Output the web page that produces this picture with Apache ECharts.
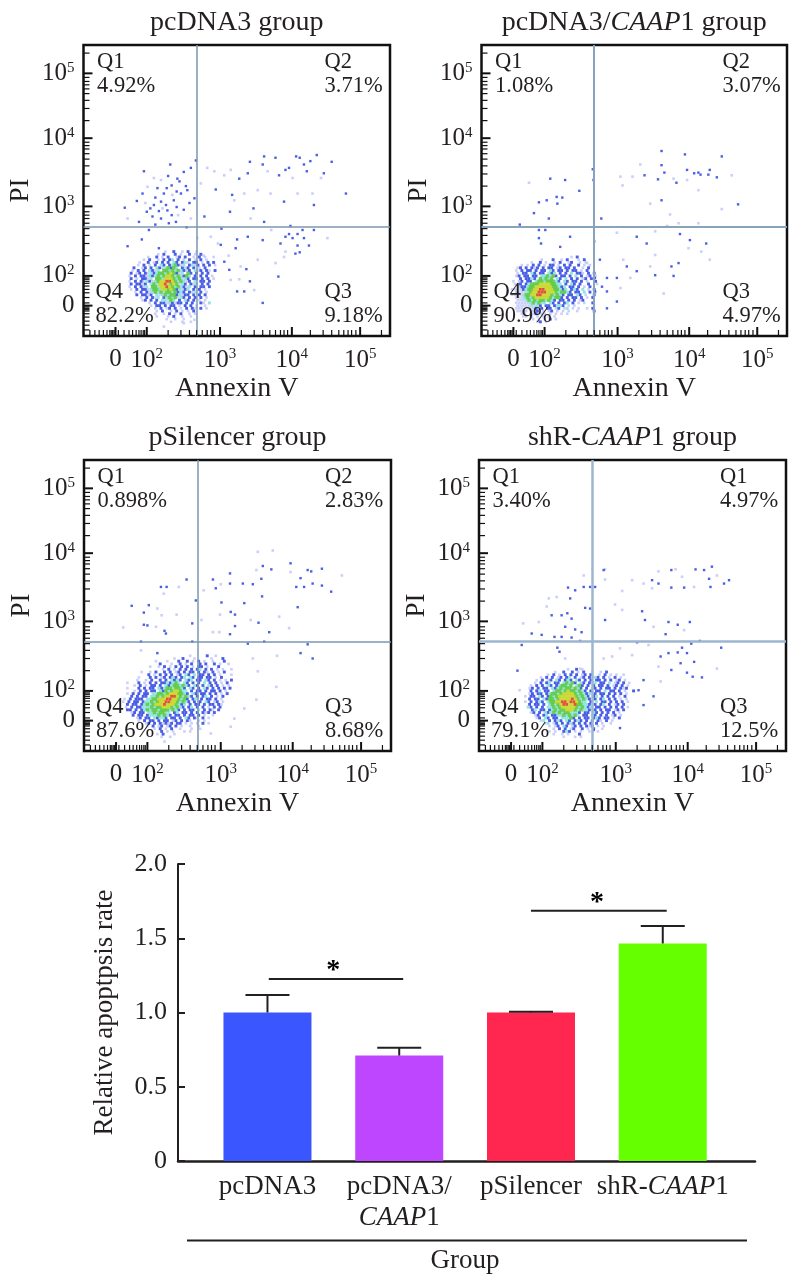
<!DOCTYPE html>
<html>
<head>
<meta charset="utf-8">
<style>
  html, body { margin: 0; background: #fff; }
  #main { width: 794px; height: 1281px; }
</style>
<script src="https://cdn.jsdelivr.net/npm/echarts@6/dist/echarts.min.js"></script>
</head>
<body>
<div id="main"></div>
<script>
// flow cytometry panels, axes are in decades (3 = 10^3), 0 sits at about 1.56
const axisMin = 1.11
const axisMax = 5.42
const xGate = 2.7
const yGate = 2.725
const majorTicks = [1.56, 2, 3.03, 4.04, 5]
const majorLabels = ['0', '10{s|2}', '10{s|3}', '10{s|4}', '10{s|5}']
const minorTicks = [
  1.2, 1.27, 1.33, 1.39, 1.44, 1.48, 1.5, 1.52, 1.54, 1.6, 1.68, 1.75, 1.8, 1.85, 1.89, 1.92, 1.95, 1.97,
  2.3, 2.48, 2.6, 2.7, 2.78, 2.85, 2.9, 2.95,
  3.33, 3.51, 3.63, 3.73, 3.81, 3.88, 3.93, 3.98,
  4.3, 4.48, 4.6, 4.7, 4.77, 4.83, 4.88, 4.94,
  5.3
]

const panelTitles = [
  '{r|pcDNA3 group}',
  '{r|pcDNA3/}{i|CAAP}{r|1 group}',
  '{r|pSilencer group}',
  '{r|shR-}{i|CAAP}{r|1 group}'
]
const quadNames = [
  ['Q1', 'Q2', 'Q3', 'Q4'],
  ['Q1', 'Q2', 'Q3', 'Q4'],
  ['Q1', 'Q2', 'Q3', 'Q4'],
  ['Q1', 'Q1', 'Q3', 'Q4']
]
const quadPercents = [
  ['4.92%', '3.71%', '9.18%', '82.2%'],
  ['1.08%', '3.07%', '4.97%', '90.9%'],
  ['0.898%', '2.83%', '8.68%', '87.6%'],
  ['3.40%', '4.97%', '12.5%', '79.1%']
]

// dense part of each cloud, one letter per 0.04 decade cell, top row first
// a pale, b blue, c cyan, g green, y yellow, r red
const cloud1Start = [1.7, 2.36]
const cloud1 = [
  '..............a..b..a.b..a......',
  '...........a.b...b.a..b.a.b.....',
  '........a..b.a.b..ab.b..a.b.a..a',
  '......a.b..a.b.bc.b.a.b.a.b.a...',
  '.....a..b.ab.b.b.cb.bca.bb.a.b.b',
  '....a.b.a.b.cb.bcgbac.bcab.b.b.a',
  '...b..ab.b.cbacgbgc.bab.b.a.b...',
  '..a.b.b.cbac.ggcgcgcbab.cab.ba.b',
  '..b.ab.bacbcggcgygbac.gb.b.b.b..',
  '.a.b.bbacbcgcgyygcgcbgc.b.b.b.a.',
  '..b.a.bbac.ggcyyygcgacb.bb.b.b.a',
  '.a.b.b.cbacgyyrrygcgcab.c.bb.b..',
  '..b.bbab.cgcyyrygygacb.bac.b.b..',
  '.a.b.bac.ggcyyrygcgcbac.b.bb.b..',
  '..a.b.bbacggcyygygbcabc.b.b.a...',
  '...a.b.bacgcgcggcgbcb.bac.b.a...',
  '....b.bbab.cacgcggbcabb.b.b.b...',
  '.....a.b.bac.bcgcgacb.b.b.b.a...',
  '......ab.b.b.ccagc.b.cb.b.a.a...',
  '........a.b.bbacbabb.b.b..ba.c..',
  '.........a.bb.b.bb.a.b.b.a..a...',
  '..........a.b.ab.b.a.b.ba.b.a...',
  '...........a.b..a.b.a.a.b.......',
  '..........a..a.b.a.b..a.a.......',
  '...........a...a.b..a..a........',
  '..............a..a..a...........',
  '................a...a..a........'
]
const cloud2Start = [1.5, 2.28]
const cloud2 = [
  '......................a.b.......',
  '...........a...b..a.b...a.b.....',
  '........a..b.a..a.b..ab..a.a....',
  '....a.a.b.b.a.bb.a.b.b..b.a.a...',
  '...ab.b.bab.b.bb.ab.bb.b..a.b...',
  '..a.b.bb.b.bb.cb.bb.b.bb.a.b....',
  '...a.bb.cb.bb.cbc.b.b.c.bba.b.b.',
  '..ab.bb.bb.ccgcgb.bb.b.c.b.ab.a.',
  '....b.bbcb.gcgcg.cb.c.b.b.ab.ba.',
  '.a.ab.bb.cggcgggcb.cb.bb.b.a..b.',
  '..aab.bcgggyyyyggcc.b.cb.b..b..a',
  '...abbcggyyyyyyggcbc.bb.b.a.b...',
  '.aaaabcggyyrryyyggcbc.bcb.c.a.b.',
  '..aaaacgyyrrryyygcggcb.bb.c.b.a.',
  '.aaaacggyyrryyygcgcb.bb.cb.a..b.',
  '..aaacgcgyyyyygcggb.b.bb.b.a.b..',
  '...aaacgcgcggcgcb.bb.b.b.ab.....',
  '..aaaaacgcgcc.cb.b.bc.b.a.a..b..',
  '...aaaaacacb.bb.bccb.a.a........',
  '..aaa.aaabab.bb.ab.ac.a.a..a.b..',
  '...aaaa.aab.a.ab.a.a.a..a.....b.',
  '....aa.aab.aa.a.a.a.a...........',
  '.....aa.a.a.a.a.a...............',
  '........a.a.a.b.a...............',
  '..........ab.a..................'
]
const cloud3Start = [1.6, 2.52]
const cloud3 = [
  '.........................a.....b..a.....',
  '...................a..b...a.....a...b...',
  '.............a...a...b..b.a.b.a..a...b..',
  '..............b...a..b.a.b..b.b..b.a..a.',
  '...........a..a.b.a.b.b.b.a.bb.a...b....',
  '...............a.b.a.b.b.b.bc.b.b.a.a..a',
  '........a..a.b..b.b.ab.b.bb.b.ba.b.a.b..',
  '..........b.a.b.b.b.ab.cb.c.bb.b.b.a...a',
  '.......a...b.b.ab.bcb.bc.cb.bb.bb.a.b...',
  '......a..a.b..b.b.cbcb.cbc.bb.cb.b.a.a.b',
  '...a...b.a.b.b.bbcbcgc.cb.b.b.c.b.b.a.b.',
  '.....a.b.a.bb.b.cbcggcgcb.cb.b.cb.b.a.a.',
  '...a...b.b.bb.cbcggcggcb.cb.b.cb.b.b.b.b',
  '.....a.b.b.bb.cbgcgyygcc.b.bb.b.bb.b.a..',
  '...a.b.b.bb.ccggcgyyyggcb.cb.bb.b.b.a.b.',
  '....b.b.bb.ccgcgyyrrygcgcb.b.bc.b.a.b...',
  '..a.b.bbb.ccggyyyrryygcgb.bc.b.bb.b.a...',
  '.a.b.bb.bccgcgyyrryygcgcb.b.b.cb.ab.a...',
  '...b.bb.bcgcgyyyryyygcbc.b.bb.b.bb.ba...',
  '..a.b.bbcccgcggyyygcgcb.bc.b.b.a.b.b....',
  '...bb.b.bcgcggcgggcgcb.b.bb.c.b.ba.b....',
  '....ab.bb.ccgcggcc.bc.bb.b.b.bab.b......',
  '.....b.bb.bcccgcgcb.bb.b.bb.b.a..a......',
  '......ab.bb.cbccb.bb.b.cb.ba.b.a........',
  '.......a.b.bb.b.bb.ab.b.ba..a.a.........',
  '.........ab.b.babab.bb.a.a.a.b.a........',
  '..........a.b.ab.ab.b.a..a..a...........',
  '............a.b.a.b..a...a..a...........',
  '...............b.a.a...a.a..............',
  '.............a.b...a....................',
  '...............a..a.....................'
]
const cloud4Start = [1.72, 2.32]
const cloud4 = [
  '................a..b.a..................',
  '...........a..b..b.a.b..a..a.b..........',
  '.........a.b.a.b.b.b.ab.b..a.b.a.a......',
  '......a.b.b.ab.bc.b.ab.b.cb.b.a.b.a.....',
  '.....a.b.ab.cb.bcb.cb.b.b.bb.b.b.ab.a...',
  '....a.b.bc.bb.cgcgb.cb.b.c.bb.c.ab.b.a..',
  '...a.b.b.cb.bcggcg.cgb.b.b.bb.b.ab.b.a..',
  '..ab.b.bb.cbcgcggcgcb.b.cb.b.bb.b.bab...',
  '...b.bc.bb.cggcgyggcgcb.b.bb.c.bb.b.a..b',
  '..ab.bb.bcggcgyyyygcgcbc.b.bb.b.b.b.a...',
  '.a.bb.cb.bgcgyyyyyygcgcb.bc.b.b.b.a.b...',
  '..b.bb.cbggcgyyyyrygcgcb.b.bc.b.b.a.a...',
  '.a.b.bcb.cggyyrryrrygcc.b.c.bb.b.b.b.a..',
  '..b.bb.b.cgcgyrryyrggccb.b.bc.b.ab.b....',
  '..cb.b.b.ccgcgyyyyygcgcbc.bb.b.b.b.b.a..',
  '...bc.bb.bcgcggyyygcgccb.b.b.bb.ab.b....',
  '...ab.b.cbcgcgcggcccb.bb.cb.b.b.b.a.....',
  '....ab.bc.bbccgcgcgc.bb.cb.b.b.ab.a.....',
  '.....ab.cb.bb.cccgb.b.bb.bcb.bb.a.b.....',
  '......ac.b.bcb.cb.bcb.b.b.ba.b.a........',
  '........ac.ab.b.bcb.b.b.b.b.a..a........',
  '.........a.ab.cb.ab.b.bab.a.a...........',
  '...........a.b.b.ab..b.a.b..a...........',
  '.........a.a..bcb.a.a..a..a.............',
  '...........a..a.a...b...................',
  '..............a...a.a...................'
]

// single events outside the clouds, [annexin, PI]
const sparse1 = [[1.96,3.55],[2.33,3.65],[2.69,3.71],[2.52,3.54],[2.43,3.44],[2.35,3.34],[2.24,3.22],[2.48,3.22],[2.57,3.27],[2.1,3.05],[1.94,3.22],[1.86,3.11],[1.69,3.01],[2.17,2.96],[2.08,2.88],[1.89,2.8],[2.31,2.78],[2.41,2.8],[2.03,2.68],[2.29,2.97],[2.52,2.98],[2.67,3.15],[2.81,2.88],[2.97,3.28],[3.17,2.95],[3.3,3.44],[3.42,3.52],[3.45,3.69],[3.63,3.65],[3.65,3.77],[3.81,3.75],[4.1,3.77],[4.39,3.79],[4.6,3.69],[4.21,3.65],[3.95,3.57],[3.86,3.49],[4.49,3.52],[4.8,3.22],[3.93,3.1],[4.35,3.05],[3.65,2.8],[4.02,2.74],[4.35,2.68],[4.19,2.68],[4.05,2.56],[4.21,2.56],[4.12,2.45],[3.88,2.48],[4.09,2.33],[3.63,2.53],[3.42,2.58],[3.27,2.54],[3.25,2.41],[3.85,1.99],[3.45,1.92],[3.37,1.77],[3.63,1.6],[3.04,2.46],[3.09,2.21],[3.16,2.09],[3.27,1.77],[1.93,2.54],[2.17,2.41],[1.73,2.44],[2.38,3.12],[2.2,3.1],[2.6,3.08],[2.46,3.4],[2.12,2.76],[2.0,2.95],[2.56,2.72],[2.15,3.3],[2.3,3.48],[2.28,3.3],[2.42,3.25],[2.55,3.33],[2.62,3.6],[2.12,3.16],[2.27,3.05],[2.42,3.02],[2.35,2.9],[2.2,2.85],[2.05,3.0],[4.0,3.6],[4.15,3.75],[4.3,3.7],[4.25,3.55],[4.0,2.62],[4.12,2.62],[4.28,2.45],[3.95,2.58],[4.15,2.35],[3.2,3.2],[3.5,3.0],[3.05,2.7],[3.4,2.1]]
const faint1 = [[1.73,2.85],[2.01,3.32],[2.2,3.42],[2.76,3.37],[3.09,3.49],[3.18,3.57],[3.56,3.27],[3.37,3.22],[3.74,3.22],[4.12,3.22],[4.33,3.22],[3.46,2.85],[3.23,3.12],[2.9,2.58],[3.0,2.48],[2.71,2.56],[3.56,2.24],[3.93,2.28],[4.54,2.56],[3.32,2.14],[3.18,1.94],[3.51,1.79],[2.52,1.3],[2.24,1.25],[2.67,1.35],[3.81,2.19],[2.1,3.45],[2.36,3.2],[2.22,3.0],[1.98,3.08],[2.44,2.9],[2.62,2.85],[2.85,3.6],[2.95,3.55],[3.7,3.55],[4.05,3.45],[4.45,3.45],[3.75,2.68],[3.95,2.36],[3.15,2.3],[3.3,1.95],[2.8,2.3],[1.95,1.92]]
const sparse2 = [[2.08,3.44],[2.29,3.42],[2.49,3.26],[1.92,3.09],[2.03,3.12],[2.17,3.17],[2.25,3.16],[2.18,3.07],[1.85,2.93],[2.06,2.85],[1.65,2.76],[1.92,2.68],[2.01,2.68],[1.92,2.56],[1.95,2.48],[2.22,2.43],[2.36,2.58],[2.68,3.58],[2.69,3.42],[2.8,2.85],[2.7,2.51],[3.65,3.85],[3.98,3.8],[4.5,3.77],[3.65,3.64],[3.69,3.53],[3.41,3.49],[3.6,3.43],[3.86,3.38],[4.01,3.57],[4.17,3.53],[4.33,3.57],[4.43,3.46],[4.31,3.5],[4.11,3.52],[4.2,3.5],[3.65,3.12],[4.73,3.06],[3.3,2.58],[3.44,2.48],[3.91,2.62],[4.05,2.53],[4.28,2.48],[3.89,2.19],[3.79,2.14],[3.82,2.0],[3.56,2.01],[3.3,2.07],[3.16,2.14],[3.02,1.97],[2.78,2.24],[2.88,1.97],[2.81,1.84],[2.88,1.77],[3.02,1.62],[2.88,1.52],[2.71,1.97],[2.71,1.77]]
const faint2 = [[1.78,3.38],[3.35,3.65],[3.07,3.47],[3.24,3.47],[3.1,3.34],[3.49,3.07],[3.77,2.91],[3.89,2.78],[3.73,2.74],[4.17,2.78],[4.5,2.99],[3.02,2.64],[3.56,2.66],[4.21,2.36],[4.03,2.41],[3.56,2.31],[3.49,2.14],[3.11,2.24],[3.68,1.74],[3.07,1.82],[3.21,1.97],[4.64,3.49],[4.33,2.24],[3.82,3.44],[4.01,3.42],[4.17,3.27],[2.6,2.19]]
const sparse3 = [[1.78,3.26],[2.02,3.27],[1.95,3.16],[2.19,3.54],[2.27,3.54],[1.95,2.98],[2.0,2.97],[2.24,2.89],[2.26,2.85],[2.68,3.34],[2.55,3.65],[2.63,3.0],[2.63,2.73],[2.92,3.65],[2.96,3.52],[3.16,3.74],[3.16,3.59],[3.34,3.59],[3.48,3.58],[3.6,3.66],[3.74,3.8],[3.62,3.85],[3.61,3.4],[3.36,3.3],[3.04,3.31],[3.17,3.17],[3.23,3.13],[3.23,2.96],[3.16,2.84],[3.71,2.87],[3.56,3.01],[4.01,3.89],[4.25,3.79],[4.3,3.77],[4.45,3.81],[4.15,3.67],[4.2,3.54],[4.09,3.54],[4.32,3.59],[4.45,3.56],[4.58,3.47],[4.11,3.24],[4.25,2.69],[4.15,2.56],[4.32,2.48],[3.64,2.73],[3.41,2.7],[1.91,2.73],[2.14,2.56]]
const faint3 = [[3.55,4.06],[3.76,4.08],[4.73,3.71],[3.53,3.79],[4.01,3.76],[3.03,3.58],[2.79,3.49],[2.44,3.54],[2.23,3.44],[2.14,3.22],[2.41,3.13],[2.2,3.12],[2.12,2.95],[1.66,2.94],[2.76,3.05],[3.02,3.13],[3.45,3.05],[3.85,3.1],[3.99,2.93],[2.92,2.87],[3.01,2.87],[3.82,2.52],[3.81,2.06],[3.48,2.48],[3.55,2.29],[3.36,1.74],[3.22,1.59],[2.89,1.37],[2.24,1.25],[3.17,1.47],[3.53,1.87],[1.91,2.6]]
const sparse4 = [[2.58,3.54],[2.67,3.54],[2.74,3.54],[2.46,3.49],[2.36,3.53],[2.39,3.37],[2.27,3.12],[2.35,3.15],[2.41,3.07],[2.13,3.12],[2.6,3.23],[2.67,3.22],[2.32,2.95],[2.46,2.91],[2.55,2.87],[1.85,2.85],[1.99,2.83],[2.17,2.8],[2.27,2.8],[2.41,2.79],[2.53,2.74],[1.71,2.68],[2.24,2.58],[2.21,2.64],[1.65,2.3],[2.88,3.05],[2.86,3.79],[3.54,3.64],[3.63,3.59],[3.81,3.53],[3.81,3.79],[3.99,3.53],[4.15,3.8],[4.27,3.79],[4.38,3.84],[4.34,3.66],[4.36,3.54],[4.55,3.59],[4.62,3.64],[3.4,3.18],[3.44,3.05],[3.77,3.02],[3.9,2.98],[4.07,3.02],[3.73,2.84],[3.33,2.72],[4.09,2.7],[4.21,2.74],[3.96,2.64],[4.51,2.64],[3.77,2.56],[3.9,2.57],[3.66,2.51],[4.03,2.56],[3.81,2.31],[4.03,2.27],[4.11,2.21],[4.24,2.2],[3.94,2.41],[4.13,2.43],[3.42,2.16],[3.35,2.01],[3.56,1.92],[3.42,1.79],[3.09,1.45],[2.72,1.42]]
const faint4 = [[2.58,3.71],[2.88,3.8],[2.88,3.65],[3.26,3.64],[3.42,3.59],[3.12,3.48],[3.54,3.52],[3.63,3.77],[3.96,3.69],[4.13,3.54],[4.45,3.71],[2.09,3.37],[2.2,3.39],[2.06,3.25],[3.02,3.28],[3.12,3.2],[3.56,2.95],[3.99,2.9],[1.73,3.0],[1.95,3.02],[3.09,2.63],[3.26,2.53],[3.49,2.68],[4.45,2.33],[3.63,2.36],[3.66,2.14],[3.14,2.24],[2.53,2.33],[2.32,2.48],[2.98,2.51],[2.86,2.48],[3.87,3.8],[1.68,2.01]]

// bar chart
const groupNames = ['pcDNA3', 'pcDNA3/\n{i|CAAP}1', 'pSilencer', 'shR-{i|CAAP}1']
const groupX = [1, 2, 3, 4]
const apoptosisRate = [1.0, 0.71, 1.0, 1.465]
const errorTop = [1.118, 0.763, 1.005, 1.582]
const sigBars = [[[1.01, 1.226], [2.03, 1.226]], [[3.0, 1.686], [4.03, 1.686]]]
const sigStars = [[1.5, 1.226], [3.5, 1.686]]

const SERIF = '"Liberation Serif", serif'
const INK = '#231f20'
const barColors = ['#3a56ff', '#bf46ff', '#ff2650', '#66ff00']
const levelColors = { a: '#c3c9f7', s: '#3148e2', b: '#3148e2', c: '#86e0dc', g: '#57c83e', y: '#c4d624', r: '#dc3d1e' }
const levelSizes = { a: 2.6, s: 2.4, b: 2.9, c: 3, g: 3.4, y: 3.2, r: 2.8 }
const levelOrder = 'asbcgyr'

const panelBoxes = [
  { left: 83.5, top: 45, width: 306.5, height: 291, gateWidth: 1.5, gateColor: '#7c97b0' },
  { left: 481.5, top: 45, width: 305.5, height: 291, gateWidth: 2, gateColor: '#8aa3bc' },
  { left: 84, top: 460, width: 307, height: 291, gateWidth: 1.5, gateColor: '#7c97b0' },
  { left: 479, top: 460, width: 307, height: 291, gateWidth: 2.5, gateColor: '#9db6cf' }
]
const panelClouds = [
  [cloud1, cloud1Start, sparse1, faint1],
  [cloud2, cloud2Start, sparse2, faint2],
  [cloud3, cloud3Start, sparse3, faint3],
  [cloud4, cloud4Start, sparse4, faint4]
]

function panelPoints(p) {
  let pts = []
  p[2].forEach(d => pts.push([d[0], d[1], 's']))
  p[3].forEach(d => pts.push([d[0], d[1], 'a']))
  p[0].forEach((row, r) => {
    // every other row sits half a cell over, the cloud reads less like a lattice
    const shift = r % 2 ? 0.02 : 0
    for (let c = 0; c < row.length; c++) {
      if (row[c] !== '.') pts.push([p[1][0] + c * 0.04 + shift, p[1][1] - r * 0.04, row[c]])
    }
  })
  return pts.sort((m, n) => levelOrder.indexOf(m[2]) - levelOrder.indexOf(n[2]))
}

function majorLabel(v) {
  return majorLabels[majorTicks.indexOf(v)] || ''
}

// inner ticks of a panel as thin rect symbols sitting on the frame, so the uneven
// log positions still go through the axis scale
function tickSeries(i, values, onX, len, thick) {
  return {
    type: 'scatter', xAxisIndex: i, yAxisIndex: i, silent: true, clip: false, z: 6,
    symbol: 'rect',
    symbolSize: onX ? [thick, len] : [len, thick],
    symbolOffset: onX ? [0, -len / 2] : [len / 2, 0],
    itemStyle: { color: '#111', opacity: 1 },
    data: values.map(v => (onX ? [v, axisMin] : [axisMin, v]))
  }
}

const labelRich = { s: { fontFamily: SERIF, fontSize: 15, color: INK, padding: [0, 0, 11, 0] } }
const grid = [], xAxis = [], yAxis = [], series = [], title = [], graphic = []

panelBoxes.forEach((b, i) => {
  grid.push({ left: b.left, top: b.top, width: b.width, height: b.height, show: true, borderColor: '#111', borderWidth: 2.5 })
  const common = { type: 'value', gridIndex: i, min: axisMin, max: axisMax, splitLine: { show: false }, axisLine: { show: false }, axisTick: { show: false } }
  xAxis.push(Object.assign({}, common, {
    name: 'Annexin V', nameLocation: 'middle', nameGap: 39,
    nameTextStyle: { fontFamily: SERIF, fontSize: 28, color: INK },
    axisLabel: { customValues: majorTicks, formatter: majorLabel, margin: 11, fontFamily: SERIF, fontSize: 25, color: INK, rich: labelRich }
  }))
  yAxis.push(Object.assign({}, common, {
    name: 'PI', nameLocation: 'middle', nameGap: 49,
    nameTextStyle: { fontFamily: SERIF, fontSize: 27, color: INK },
    axisLabel: { customValues: majorTicks, formatter: majorLabel, margin: 9, fontFamily: SERIF, fontSize: 25, color: INK, rich: labelRich }
  }))
  series.push({
    type: 'scatter',
    xAxisIndex: i,
    yAxisIndex: i,
    symbol: 'rect',
    symbolSize: v => levelSizes[v[2]],
    silent: true,
    itemStyle: { opacity: 0.88, color: p => levelColors[p.data[2]] },
    data: panelPoints(panelClouds[i]),
    markLine: {
      silent: true,
      symbol: 'none',
      label: { show: false },
      lineStyle: { type: 'solid', color: b.gateColor, width: b.gateWidth },
      data: [{ xAxis: xGate }, { yAxis: yGate }]
    }
  })
  series.push(tickSeries(i, majorTicks, true, 9, 2))
  series.push(tickSeries(i, majorTicks, false, 9, 2))
  series.push(tickSeries(i, minorTicks, true, 6, 1.2))
  series.push(tickSeries(i, minorTicks, false, 6, 1.2))
  title.push({
    text: panelTitles[i],
    left: b.left + b.width / 2 - 5,
    top: b.top - 41,
    textAlign: 'center',
    textStyle: {
      fontWeight: 'normal',
      rich: {
        r: { fontFamily: SERIF, fontSize: 28, color: INK, fontWeight: 'normal' },
        i: { fontFamily: SERIF, fontSize: 28, color: INK, fontStyle: 'italic', fontWeight: 'normal' }
      }
    }
  })
  // Q2 Q3 right column, Q1 Q4 left column
  const spots = [[13.5, 17, 41], [241, 17, 41], [241, 247, 271], [12, 247, 271]]
  spots.forEach((s, q) => {
    const txt = (t, y) => ({
      type: 'text', z: 100, silent: true, x: b.left + s[0], y: b.top + y,
      style: { text: t, font: '22.5px ' + SERIF, fill: INK, verticalAlign: 'middle' }
    })
    graphic.push(txt(quadNames[i][q], s[1]), txt(quadPercents[i][q], s[2]))
  })
})

// bar chart gets its own grid, x is a value axis so the bars land where the figure has them
const barGrid = grid.length
grid.push({ left: 178, top: 864, width: 577, height: 297 })
xAxis.push({
  type: 'value', gridIndex: barGrid, min: 0.321, max: 4.7, splitLine: { show: false },
  axisLine: { lineStyle: { color: INK, width: 2.5 } },
  axisTick: { show: false },
  axisLabel: {
    customValues: groupX, margin: 10, lineHeight: 31, fontFamily: SERIF, fontSize: 27, color: INK,
    formatter: v => groupNames[groupX.indexOf(v)] || '',
    rich: { i: { fontFamily: SERIF, fontSize: 27, fontStyle: 'italic', color: INK, lineHeight: 31 } }
  }
})
yAxis.push({
  type: 'value', gridIndex: barGrid, min: 0, max: 2, interval: 0.5,
  name: 'Relative apoptpsis rate', nameLocation: 'middle', nameGap: 60,
  nameTextStyle: { fontFamily: SERIF, fontSize: 27, color: INK },
  splitLine: { show: false },
  axisLine: { show: true, lineStyle: { color: INK, width: 2 } },
  axisTick: { show: true, inside: true, length: 7, lineStyle: { color: INK, width: 2 } },
  axisLabel: { margin: 11, fontFamily: SERIF, fontSize: 26, color: INK, formatter: v => (v === 0 ? '0' : v.toFixed(1)) }
})
const barX = xAxis.length - 1
const barY = yAxis.length - 1

series.push({
  type: 'bar', xAxisIndex: barX, yAxisIndex: barY, barWidth: 88, silent: true,
  data: groupX.map((x, i) => ({ value: [x, apoptosisRate[i]], itemStyle: { color: barColors[i] } }))
})
series.push({
  type: 'custom', xAxisIndex: barX, yAxisIndex: barY, silent: true, z: 5,
  data: groupX.map((x, i) => [x, apoptosisRate[i], errorTop[i]]),
  renderItem: (params, api) => {
    const low = api.coord([api.value(0), api.value(1)])
    const high = api.coord([api.value(0), api.value(2)])
    const style = { stroke: INK, lineWidth: 2, fill: null }
    return {
      type: 'group',
      children: [
        { type: 'line', shape: { x1: low[0], y1: low[1], x2: high[0], y2: high[1] }, style },
        { type: 'line', shape: { x1: high[0] - 22, y1: high[1], x2: high[0] + 22, y2: high[1] }, style }
      ]
    }
  }
})
sigBars.forEach(d => {
  series.push({
    type: 'line', xAxisIndex: barX, yAxisIndex: barY, data: d, silent: true,
    symbol: 'none', lineStyle: { color: INK, width: 2 }
  })
})
series.push({
  type: 'scatter', xAxisIndex: barX, yAxisIndex: barY, data: sigStars, silent: true,
  symbolSize: 0,
  itemStyle: { color: INK, opacity: 1 },
  label: { show: true, position: 'top', distance: -6, formatter: '*', fontFamily: SERIF, fontSize: 28, fontWeight: 'bold', color: '#000' }
})

graphic.push({ type: 'line', silent: true, shape: { x1: 187, y1: 1240.5, x2: 747, y2: 1240.5 }, style: { stroke: INK, lineWidth: 2 } })
graphic.push({
  type: 'text', silent: true, x: 465, y: 1261,
  style: { text: 'Group', font: '27px ' + SERIF, fill: INK, align: 'center', verticalAlign: 'middle' }
})

const chart = echarts.init(document.getElementById('main'))
chart.setOption({
  animation: false,
  backgroundColor: '#fff',
  title: title,
  grid: grid,
  xAxis: xAxis,
  yAxis: yAxis,
  series: series,
  graphic: graphic
})
window.addEventListener('resize', chart.resize)
</script>
</body>
</html>
